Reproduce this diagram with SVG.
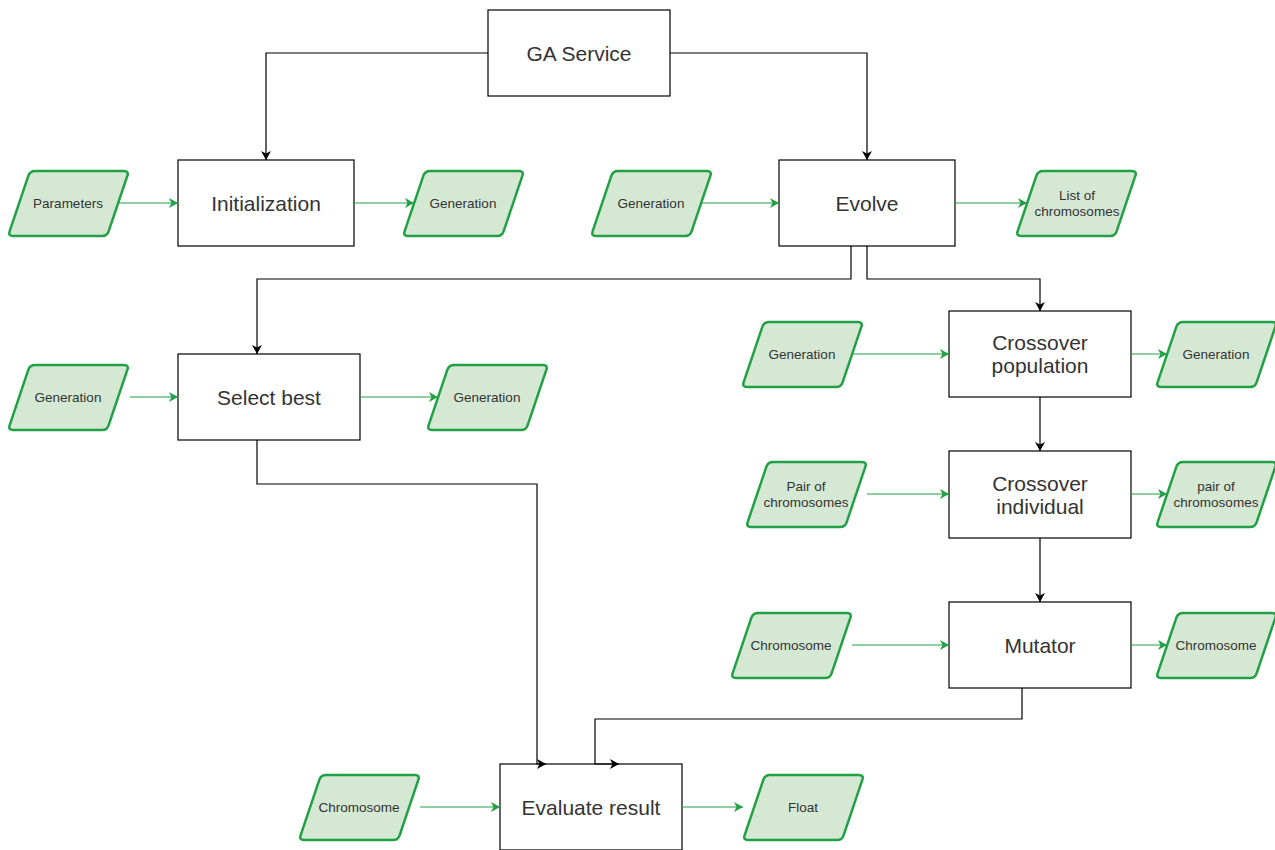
<svg xmlns="http://www.w3.org/2000/svg" xmlns:xlink="http://www.w3.org/1999/xlink" width="1275" height="850" viewBox="0 0 1275 850">
<style>
.box{fill:#ffffff;stroke:#000000;stroke-width:1.2}
.io{fill:#d5e8d4;stroke:#22a045;stroke-width:2.5}
.lbl{font-family:"Liberation Sans",Arial,sans-serif;font-size:21px;fill:#333333;text-anchor:middle;dominant-baseline:central}
.sm{font-family:"Liberation Sans",Arial,sans-serif;font-size:13.5px;fill:#333333;text-anchor:middle;dominant-baseline:central}
.blk{fill:none;stroke:#000000;stroke-width:1.2;marker-end:url(#ab)}
.grn{fill:none;stroke:#22a045;stroke-width:1.2;marker-end:url(#ag)}
</style>
<defs>
<marker id="ab" markerUnits="userSpaceOnUse" markerWidth="12" markerHeight="12" refX="9" refY="5" orient="auto">
<path d="M0,0 L9,5 L0,10 L2.5,5 Z" fill="#000000"/>
</marker>
<marker id="ag" markerUnits="userSpaceOnUse" markerWidth="12" markerHeight="12" refX="9" refY="5" orient="auto">
<path d="M0,0 L9,5 L0,10 L2.5,5 Z" fill="#22a045"/>
</marker>
<path id="para" d="M27,0 L116,0 Q121,0 119.4,4.7 L100.6,60.3 Q99,65 94,65 L5,65 Q0,65 1.6,60.3 L20.4,4.7 Q22,0 27,0 Z"/>
</defs>
<rect width="1275" height="850" fill="#ffffff"/>

<g id="ga-service"><rect class="box" x="488" y="10" width="182" height="86"/><text class="lbl" x="579" y="53">GA Service</text></g>
<g id="initialization"><rect class="box" x="178" y="160" width="176" height="86"/><text class="lbl" x="266" y="203">Initialization</text></g>
<g id="evolve"><rect class="box" x="779" y="160" width="176" height="86"/><text class="lbl" x="867" y="203">Evolve</text></g>
<g id="select-best"><rect class="box" x="178" y="354" width="182" height="86"/><text class="lbl" x="269" y="397">Select best</text></g>
<g id="crossover-population"><rect class="box" x="949" y="311" width="182" height="86"/><text class="lbl" x="1040" y="342">Crossover</text><text class="lbl" x="1040" y="365">population</text></g>
<g id="crossover-individual"><rect class="box" x="949" y="451" width="182" height="87"/><text class="lbl" x="1040" y="483">Crossover</text><text class="lbl" x="1040" y="506">individual</text></g>
<g id="mutator"><rect class="box" x="949" y="602" width="182" height="86"/><text class="lbl" x="1040" y="645">Mutator</text></g>
<g id="evaluate-result"><rect class="box" x="500" y="764" width="182" height="86"/><text class="lbl" x="591" y="807">Evaluate result</text></g>

<g id="in-parameters"><use href="#para" class="io" x="8" y="171"/><text class="sm" x="68" y="203">Parameters</text></g>
<g id="out-init-generation"><use href="#para" class="io" x="403" y="171"/><text class="sm" x="463" y="203">Generation</text></g>
<g id="in-evolve-generation"><use href="#para" class="io" x="591" y="171"/><text class="sm" x="651" y="203">Generation</text></g>
<g id="out-list"><use href="#para" class="io" x="1016" y="171"/><text class="sm" x="1077" y="195">List of</text><text class="sm" x="1077" y="211">chromosomes</text></g>
<g id="in-select-generation"><use href="#para" class="io" x="8" y="365"/><text class="sm" x="68" y="397">Generation</text></g>
<g id="out-select-generation"><use href="#para" class="io" x="427" y="365"/><text class="sm" x="487" y="397">Generation</text></g>
<g id="in-cp-generation"><use href="#para" class="io" x="742" y="322"/><text class="sm" x="802" y="354">Generation</text></g>
<g id="out-cp-generation"><use href="#para" class="io" x="1156" y="322"/><text class="sm" x="1216" y="354">Generation</text></g>
<g id="in-pair"><use href="#para" class="io" x="746" y="462"/><text class="sm" x="806" y="486">Pair of</text><text class="sm" x="806" y="502">chromosomes</text></g>
<g id="out-pair"><use href="#para" class="io" x="1156" y="462"/><text class="sm" x="1216" y="486">pair of</text><text class="sm" x="1216" y="502">chromosomes</text></g>
<g id="in-mut-chromosome"><use href="#para" class="io" x="731" y="613"/><text class="sm" x="791" y="645">Chromosome</text></g>
<g id="out-mut-chromosome"><use href="#para" class="io" x="1156" y="613"/><text class="sm" x="1216" y="645">Chromosome</text></g>
<g id="in-eval-chromosome"><use href="#para" class="io" x="299" y="775"/><text class="sm" x="359" y="807">Chromosome</text></g>
<g id="out-float"><use href="#para" class="io" x="743" y="775"/><text class="sm" x="803" y="807">Float</text></g>

<g id="connectors">
<path class="blk" d="M488,53 H266 V160"/>
<path class="blk" d="M670,53 H867 V160"/>
<path class="blk" d="M851,246 V279 H257 V354"/>
<path class="blk" d="M867,246 V279 H1040 V311"/>
<path class="blk" d="M1040,397 V451"/>
<path class="blk" d="M1040,538 V602"/>
<path class="blk" d="M257,440 V484 H537 V764 H546"/>
<path class="blk" d="M1022,688 V719 H595 V764 H619"/>
<path class="grn" d="M118,203 H178"/>
<path class="grn" d="M354,203 H414"/>
<path class="grn" d="M701,203 H779"/>
<path class="grn" d="M955,203 H1027"/>
<path class="grn" d="M130,397 H178"/>
<path class="grn" d="M360,397 H438"/>
<path class="grn" d="M853,354 H949"/>
<path class="grn" d="M1131,354 H1167"/>
<path class="grn" d="M867,494 H949"/>
<path class="grn" d="M1131,494 H1167"/>
<path class="grn" d="M852,645 H949"/>
<path class="grn" d="M1131,645 H1167"/>
<path class="grn" d="M420,807 H500"/>
<path class="grn" d="M682,807 H743"/>
</g>
</svg>
